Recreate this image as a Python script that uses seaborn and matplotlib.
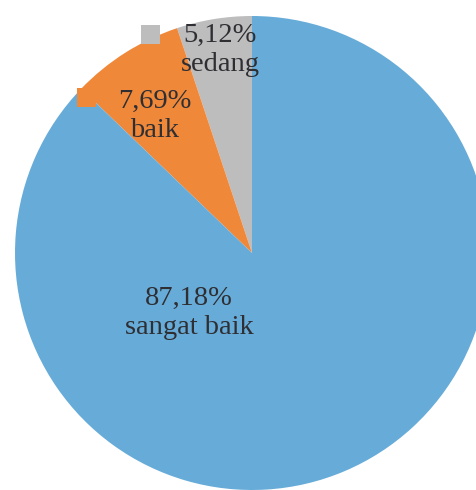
import matplotlib
matplotlib.use("Agg")
import matplotlib.pyplot as plt
from matplotlib.patches import Rectangle
import seaborn as sns

categories = ["sedang", "baik", "sangat baik"]
values = [5.12, 7.69, 87.18]
value_labels = ["5,12%", "7,69%", "87,18%"]

colors = ["#bdbdbd", "#f0883a", "#67acd8"]

sns.set_theme(style="white")
plt.rcParams["font.family"] = "serif"
plt.rcParams["font.serif"] = ["Liberation Serif", "DejaVu Serif"]

W, H = 476, 490
fig = plt.figure(figsize=(W / 100, H / 100), dpi=100)
ax = fig.add_axes([0, 0, 1, 1])

cx, cy, r = 252, H - 253, 237
ax.pie(values, colors=colors, startangle=90, counterclock=True,
       center=(cx, cy), radius=r, frame=False,
       wedgeprops=dict(linewidth=0))

# label positions (pixel coords from top-left)
label_pos = [(220, 50), (155, 116), (189, 313)]
for cat, vl, (x, y) in zip(categories, value_labels, label_pos):
    ax.text(x, H - y, f"{vl}\n{cat}", ha="center", va="center",
            fontsize=20.5, color="#2e2e33", linespacing=1.2, zorder=5,
            family="Liberation Serif")

# legend-key squares
key_pos = [(141, 25, "#bdbdbd"), (77, 88, "#f0883a")]
for x, y, c in key_pos:
    ax.add_patch(Rectangle((x, H - y - 19), 19, 19, facecolor=c,
                           edgecolor="none", zorder=4))

ax.set_xlim(0, W)
ax.set_ylim(0, H)
ax.set_aspect("equal")
ax.axis("off")
fig.savefig("out.png", dpi=100, facecolor="white")
